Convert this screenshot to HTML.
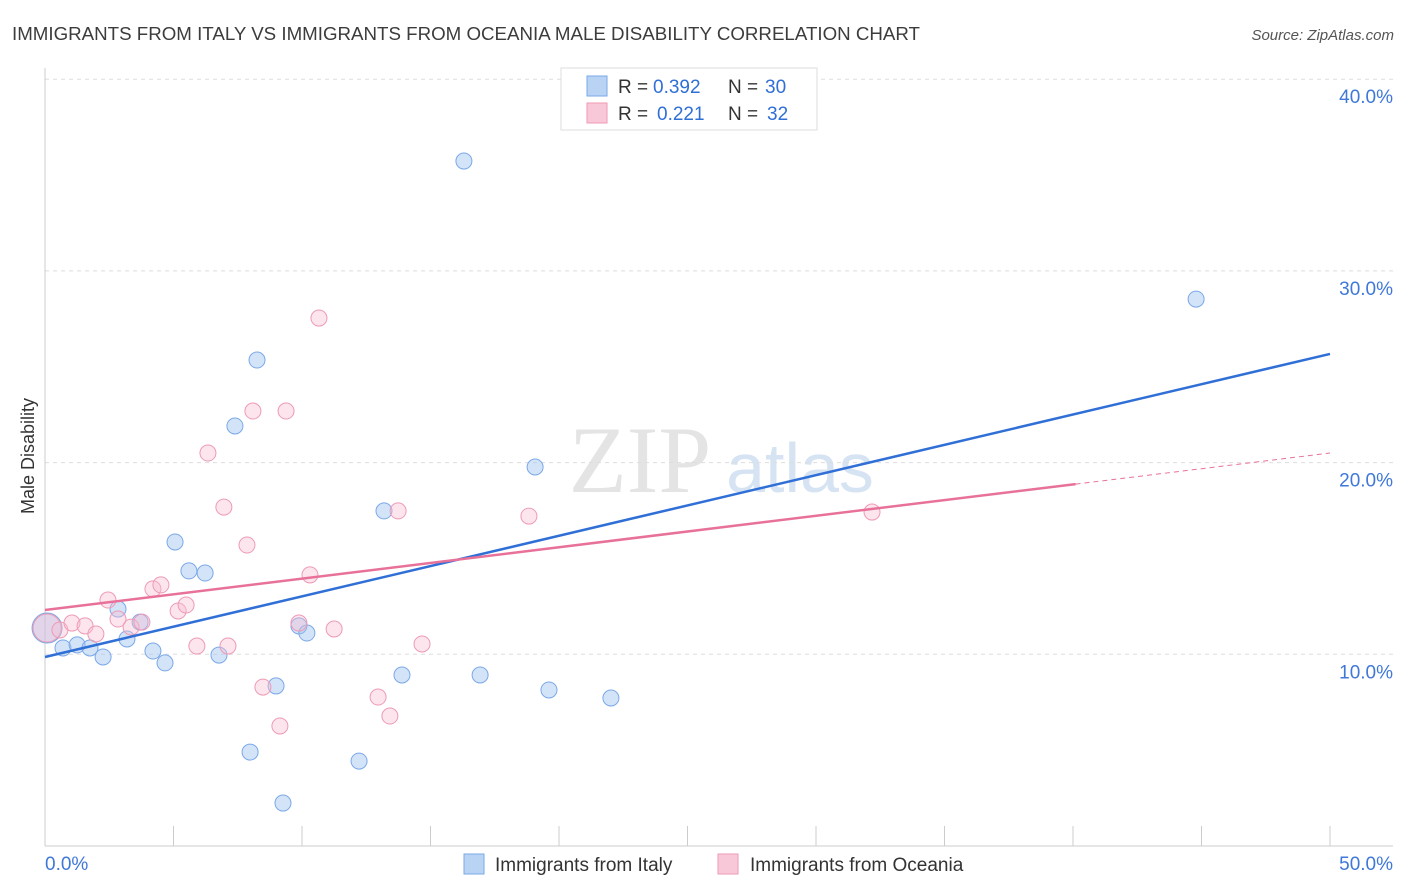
<!DOCTYPE html>
<html><head><meta charset="utf-8"><style>
body{margin:0;background:#fff;font-family:"Liberation Sans",sans-serif;}
svg{display:block}
</style></head><body>
<svg id="chart" width="1406" height="892">
<text x="12" y="40" font-size="18" fill="#3c3c3c" textLength="908" lengthAdjust="spacingAndGlyphs">IMMIGRANTS FROM ITALY VS IMMIGRANTS FROM OCEANIA MALE DISABILITY CORRELATION CHART</text>
<text x="1394" y="40" font-size="15" fill="#555" font-style="italic" text-anchor="end">Source: ZipAtlas.com</text>
<text x="640" y="492" font-size="95" fill="#e4e4e4" font-family="Liberation Serif,serif" text-anchor="middle">ZIP</text>
<text x="800" y="492" font-size="70" fill="#d6e3f3" text-anchor="middle">atlas</text>
<text transform="translate(34,456) rotate(-90)" font-size="18" fill="#333" text-anchor="middle">Male Disability</text>
<g id="grid"></g><g id="marks"></g>
<g>
<rect x="561" y="68" width="256" height="62" fill="#fff" stroke="#ddd"/>
<rect x="587" y="76" width="20" height="20" fill="#b9d3f5" stroke="#7aa8e8"/>
<rect x="587" y="103" width="20" height="20" fill="#f9c8d8" stroke="#ee9ab6"/>
<text x="618" y="93" font-size="19" fill="#333">R =</text>
<text x="653" y="93" font-size="19" fill="#2f6fd6">0.392</text>
<text x="728" y="93" font-size="19" fill="#333">N =</text>
<text x="765" y="93" font-size="19" fill="#2f6fd6">30</text>
<text x="618" y="120" font-size="19" fill="#333">R =</text>
<text x="657" y="120" font-size="19" fill="#2f6fd6">0.221</text>
<text x="728" y="120" font-size="19" fill="#333">N =</text>
<text x="767" y="120" font-size="19" fill="#2f6fd6">32</text>
</g>
<g>
<rect x="464" y="854" width="20" height="20" fill="#b9d3f5" stroke="#7aa8e8"/>
<text x="495" y="871" font-size="19" fill="#333">Immigrants from Italy</text>
<rect x="718" y="854" width="20" height="20" fill="#f9c8d8" stroke="#ee9ab6"/>
<text x="750" y="871" font-size="19" fill="#333">Immigrants from Oceania</text>
</g>
</svg>
<script>
const yTicks=[10,20,30,40];
const yTickLabels=["10.0%","20.0%","30.0%","40.0%"];
const xTicks=[0,5,10,15,20,25,30,35,40,45,50];
const italyX=[0.08,0.70,1.25,1.75,2.26,2.84,3.19,3.70,4.20,4.67,5.06,5.60,6.23,6.77,7.39,7.98,8.25,8.99,9.26,9.88,10.19,12.22,13.19,13.89,16.30,16.93,19.07,19.61,22.02,44.79];
const italyY=[11.37,10.33,10.49,10.33,9.86,12.36,10.80,11.68,10.17,9.55,15.86,14.35,14.24,9.96,21.91,4.90,25.35,8.35,2.24,11.48,11.11,4.43,17.48,8.92,35.73,8.92,19.77,8.14,7.72,28.53];
const oceX=[0.08,0.58,1.05,1.56,1.98,2.45,2.84,3.35,3.77,4.20,4.51,5.18,5.49,5.91,6.34,6.96,7.12,7.86,8.09,8.48,9.14,9.38,9.88,10.31,10.66,11.25,12.96,13.42,13.74,14.67,18.83,32.18];
const oceY=[11.37,11.27,11.63,11.48,11.06,12.83,11.84,11.42,11.68,13.41,13.62,12.26,12.57,10.43,20.50,17.68,10.43,15.70,22.69,8.29,6.26,22.69,11.63,14.14,27.54,11.32,7.77,6.78,17.48,10.54,17.21,17.42];
const italyTrend=[9.86,25.67];
const oceTrend=[12.31,20.50];
const oceSolidEnd=40.1;
const NS="http://www.w3.org/2000/svg";
const sx=v=>45+v*25.7, sy=v=>846-v*19.17;
function mk(t,a,p){const e=document.createElementNS(NS,t);for(const k in a)e.setAttribute(k,a[k]);p.appendChild(e);return e;}
const grid=document.getElementById('grid'),marks=document.getElementById('marks');
yTicks.forEach((v,i)=>{
 const l=mk('line',{x1:45,x2:1393,y1:sy(v),y2:sy(v),stroke:'#ddd','stroke-dasharray':'4,4'},grid);
 
 
 const t=mk('text',{x:1393,y:sy(v)+24,'font-size':19,fill:'#3f78d8','text-anchor':'end'},grid);t.textContent=yTickLabels[i];
 
 
});
mk('line',{x1:45,x2:45,y1:68,y2:846,stroke:'#ccc'},grid);
mk('line',{x1:45,x2:1393,y1:846,y2:846,stroke:'#ccc'},grid);
xTicks.forEach(v=>{const l=mk('line',{x1:sx(v),x2:sx(v),y1:826,y2:846,stroke:'#ccc'},grid);
 
 });
const t0=mk('text',{x:45,y:870,'font-size':19,fill:'#3f78d8'},grid);t0.textContent='0.0%';


const t1=mk('text',{x:1393,y:870,'font-size':19,fill:'#3f78d8','text-anchor':'end'},grid);t1.textContent='50.0%';


italyX.forEach((x,i)=>{const c=mk('circle',{cx:sx(x),cy:sy(italyY[i]),r:i==0?15:8,fill:'rgba(160,195,240,0.45)',stroke:'#7aa8e8','stroke-width':1},marks);
 
 });
oceX.forEach((x,i)=>{const c=mk('circle',{cx:sx(x),cy:sy(oceY[i]),r:i==0?14:8,fill:'rgba(248,190,210,0.4)',stroke:'#ee9ab6','stroke-width':1},marks);
 
 });
const bl=mk('line',{x1:sx(0),y1:sy(italyTrend[0]),x2:sx(50),y2:sy(italyTrend[1]),stroke:'#2f6fd6','stroke-width':2.5},marks);


const pe=oceTrend[0]+(oceTrend[1]-oceTrend[0])*oceSolidEnd/50;
const pl=mk('line',{x1:sx(0),y1:sy(oceTrend[0]),x2:sx(oceSolidEnd),y2:sy(pe),stroke:'#e8719a','stroke-width':2.5},marks);


const pd=mk('line',{x1:sx(oceSolidEnd),y1:sy(pe),x2:sx(50),y2:sy(oceTrend[1]),stroke:'#e8719a','stroke-width':1,'stroke-dasharray':'5,4'},marks);


</script>
</body></html>
